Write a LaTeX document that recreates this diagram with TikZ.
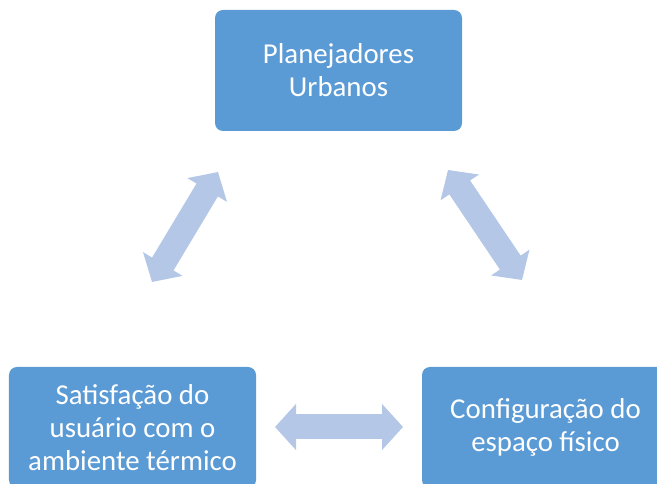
\documentclass[tikz,border=0pt]{standalone}
\usepackage{fontspec}
\setmainfont{Carlito}
\usetikzlibrary{arrows.meta}

\definecolor{boxblue}{HTML}{5B9BD5}
\definecolor{arrowblue}{HTML}{B4C7E7}
\tikzset{
    box/.style={fill=boxblue, rounded corners=0.16cm, minimum width=4.94cm, minimum height=2.42cm,
        inner sep=0pt, align=center, text=white, font=\fontsize{16.4}{18.7}\selectfont},
    link/.style={arrowblue, line width=0.5cm,
        {Triangle[width=0.9cm, length=0.42cm]}-{Triangle[width=0.9cm, length=0.42cm]}}
}

\begin{document}
\begin{tikzpicture}
    \useasboundingbox (0,0) rectangle (13.14,9.68);
    \clip (0,0) rectangle (13.14,9.68);

    \node[box] (plan) at (6.77, 8.27) {Planejadores\\Urbanos};
    \node[box] (user) at (2.65, 1.13) {Satisfação do\\usuário com o\\ambiente térmico};
    \node[box] (space) at (10.91, 1.13) {Configuração do\\espaço físico};

    \coordinate (l1) at (3.04, 4.04);
    \coordinate (l2) at (4.36, 6.24);
    \coordinate (r1) at (8.96, 6.28);
    \coordinate (r2) at (10.44, 4.08);
    \coordinate (b1) at (5.50, 1.14);
    \coordinate (b2) at (8.06, 1.14);

    \draw[link] (l1) -- (l2);
    \draw[link] (r1) -- (r2);
    \draw[link] (b1) -- (b2);
\end{tikzpicture}
\end{document}
